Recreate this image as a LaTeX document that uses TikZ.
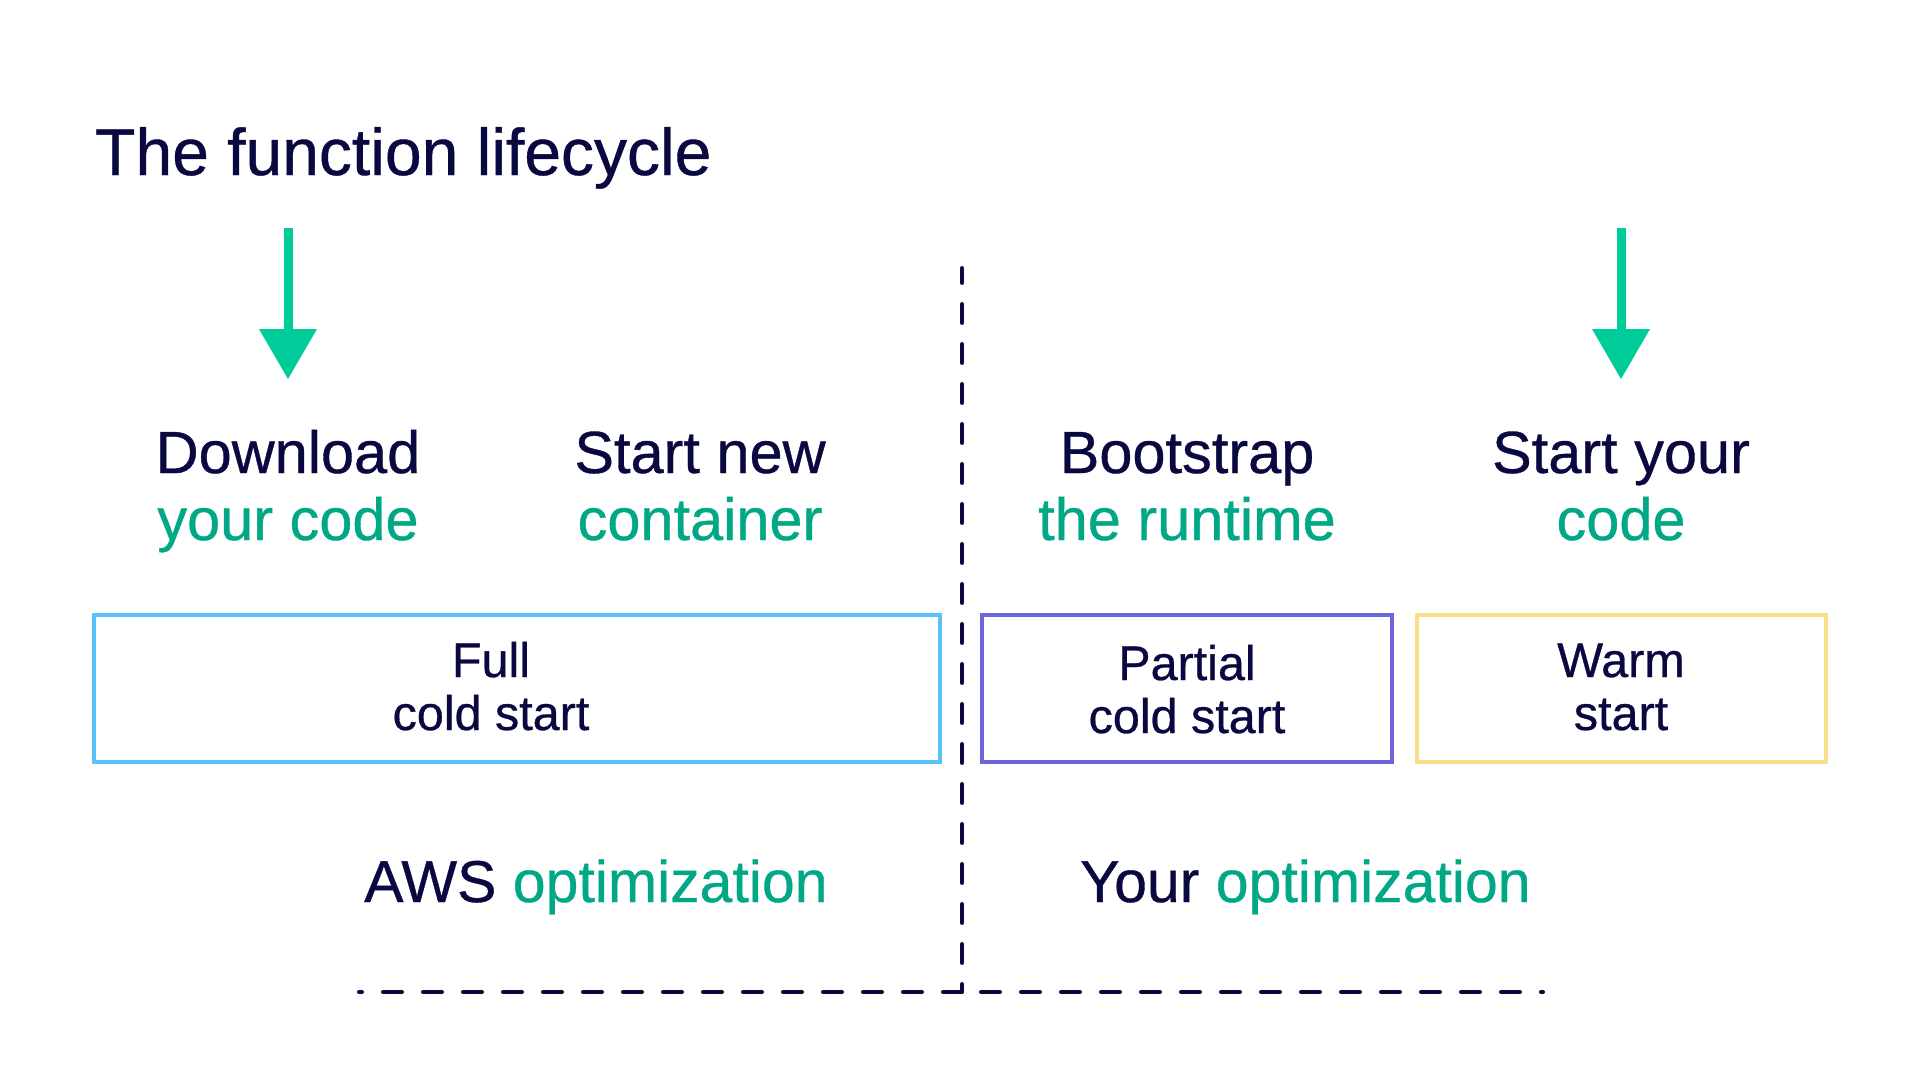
\documentclass[tikz,border=0pt]{standalone}
\usepackage{fontspec}
\setmainfont{Liberation Sans}[FakeBold=0.6]
\usetikzlibrary{calc}
\definecolor{navy}{RGB}{10,8,64}
\definecolor{tgreen}{RGB}{0,168,134}
\definecolor{agreen}{RGB}{0,204,153}
\definecolor{bblue}{RGB}{91,194,249}
\definecolor{bpurple}{RGB}{107,102,222}
\definecolor{byellow}{RGB}{247,223,140}
\begin{document}
\begin{tikzpicture}[x=1pt,y=-1pt,
  titletxt/.style={anchor=base west, inner sep=0pt, text=navy, font=\fontsize{66}{78}\selectfont},
  headtxt/.style={anchor=base, inner sep=0pt, font=\fontsize{59.5}{70}\selectfont},
  dk/.style={text=navy},
  gr/.style={text=tgreen},
  boxtxt/.style={anchor=base, inner sep=0pt, text=navy, font=\fontsize{48.5}{58}\selectfont},
  optitxt/.style={anchor=base west, inner sep=0pt, font=\fontsize{59}{70}\selectfont},
  stagebox/.style={draw, line width=4.5pt, minimum height=147pt, inner sep=0pt},
  greenshaft/.style={draw=agreen, line width=9pt},
  greenhead/.style={fill=agreen},
  divider/.style={draw=navy, line width=4pt, line cap=round, dash pattern=on 19pt off 21pt}
]
\useasboundingbox (0,0) rectangle (1920,1080);
\fill[white] (0,0) rectangle (1920,1080);

% title
\node[titletxt] (title) at (95,175) {The function lifecycle};

% arrows
\coordinate (a1top) at (288,228);
\coordinate (a1tip) at (288,379);
\coordinate (a2top) at (1621,228);
\coordinate (a2tip) at (1621,379);
\draw[greenshaft] (a1top) -- ($(a1tip)+(0,-48)$);
\fill[greenhead] ($(a1tip)+(-29,-50)$) -- ($(a1tip)+(29,-50)$) -- (a1tip) -- cycle;
\draw[greenshaft] (a2top) -- ($(a2tip)+(0,-48)$);
\fill[greenhead] ($(a2tip)+(-29,-50)$) -- ($(a2tip)+(29,-50)$) -- (a2tip) -- cycle;

% stage headings
\node[headtxt, dk] (h1a) at (288,473) {Download};
\node[headtxt, gr] (h1b) at (288,540) {your code};
\node[headtxt, dk] (h2a) at (700,473) {Start new};
\node[headtxt, gr] (h2b) at (700,540) {container};
\node[headtxt, dk] (h3a) at (1187,473) {Bootstrap};
\node[headtxt, gr] (h3b) at (1187,540) {the runtime};
\node[headtxt, dk] (h4a) at (1621,473) {Start your};
\node[headtxt, gr] (h4b) at (1621,540) {code};

% boxes
\node[stagebox, draw=bblue, minimum width=846pt] (full) at (517,688.5) {};
\node[stagebox, draw=bpurple, minimum width=410pt] (partial) at (1187,688.5) {};
\node[stagebox, draw=byellow, minimum width=409pt] (warm) at (1621.5,688.5) {};

\node[boxtxt] (fulla) at (491,677) {Full};
\node[boxtxt] (fullb) at (491,730) {cold start};
\node[boxtxt] (parta) at (1187,680) {Partial};
\node[boxtxt] (partb) at (1187,733) {cold start};
\node[boxtxt] (warma) at (1621,677) {Warm};
\node[boxtxt] (warmb) at (1621,730) {start};

% optimization labels
\node[optitxt] (awsopt) at (364,902) {\textcolor{navy}{AWS} \textcolor{tgreen}{optimization}};
\node[optitxt] (youropt) at (1080,902) {\textcolor{navy}{Your} \textcolor{tgreen}{optimization}};

% divider lines
\coordinate (corner) at (962,992);
\coordinate (vtop) at (962,268);
\coordinate (hleft) at (359,992);
\coordinate (hright) at (1543,992);
\draw[divider] (corner) -- (hleft);
\draw[divider, dash phase=11pt] (corner) -- (vtop);
\draw[divider, dash phase=21pt] (corner) -- (hright);
\end{tikzpicture}
\end{document}
